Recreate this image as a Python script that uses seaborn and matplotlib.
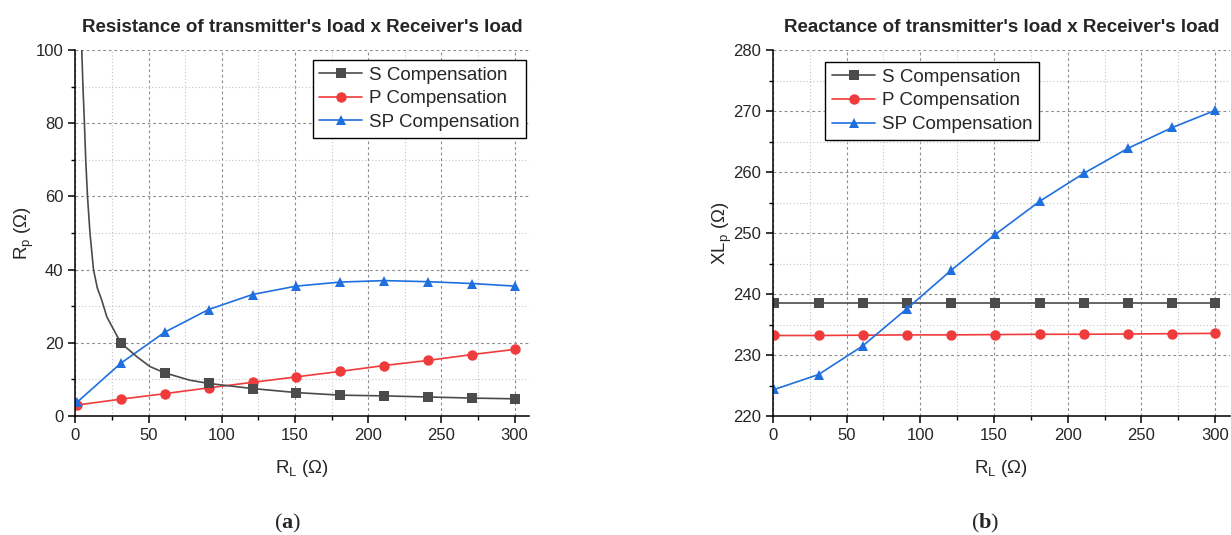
import numpy as np
import pandas as pd
import seaborn as sns
from matplotlib import pyplot as plt
from matplotlib.ticker import AutoMinorLocator, MultipleLocator

# load resistance values
rl = [1, 31, 61, 91, 121, 151, 181, 211, 241, 271, 300]

res_s = [500.0, 20.0, 11.8, 8.9, 7.5, 6.4, 5.7, 5.5, 5.2, 4.9, 4.7]
res_p = [3.0, 4.6, 6.1, 7.7, 9.2, 10.7, 12.2, 13.8, 15.2, 16.8, 18.2]
res_sp = [3.7, 14.4, 22.9, 29.1, 33.2, 35.5, 36.6, 37.0, 36.7, 36.2, 35.5]

s_trace_x = [1, 4.4, 5.2, 6.2, 7.1, 8.3, 10.0, 12.4, 15.0, 18.0, 21.5, 31, 42, 51, 61, 78, 91, 121,
             151, 181, 211, 241, 271, 300]
s_trace_y = [500.0, 100.0, 90.0, 80.0, 70.0, 60.0, 50.0, 40.0, 35.0, 31.7, 27.1, 20.0, 16.2, 13.5,
             11.8, 9.8, 8.9, 7.5, 6.4, 5.7, 5.5, 5.2, 4.9, 4.7]

react_s = [238.5, 238.5, 238.5, 238.5, 238.5, 238.5, 238.5, 238.5, 238.5, 238.5, 238.5]
react_p = [233.2, 233.2, 233.25, 233.3, 233.3, 233.35, 233.4, 233.4, 233.45, 233.5, 233.55]
react_sp = [224.35, 226.8, 231.5, 237.6, 243.9, 249.8, 255.2, 259.8, 263.9, 267.3, 270.1]

series = ["S Compensation", "P Compensation", "SP Compensation"]
palette = {"S Compensation": "#4b4b4b", "P Compensation": "#ef3b3b", "SP Compensation": "#1f6fde"}
markers = {"S Compensation": "s", "P Compensation": "o", "SP Compensation": "^"}

sns.set_style("white")
plt.rcParams["font.family"] = ["Liberation Sans", "DejaVu Sans"]
plt.rcParams["mathtext.default"] = "regular"
plt.rcParams["mathtext.fontset"] = "custom"
plt.rcParams["mathtext.bf"] = "Liberation Serif:bold"


def long_df(ys):
    frames = []
    for name, y in zip(series, ys):
        frames.append(pd.DataFrame({"rl": rl, "val": y, "series": name}))
    return pd.concat(frames, ignore_index=True)


def style_axes(ax, ylim, ymajor):
    ax.set_ylim(*ylim)
    ax.yaxis.set_major_locator(MultipleLocator(ymajor))
    ax.xaxis.set_minor_locator(AutoMinorLocator(2))
    ax.yaxis.set_minor_locator(AutoMinorLocator(2))
    ax.set_xticks(np.arange(0, 301, 50))
    ax.set_xlim(0, 310)
    ax.grid(which="major", color="#8c8c8c", linestyle=(0, (2.5, 2.5)), linewidth=0.8)
    ax.grid(which="minor", color="#c4c4c4", linestyle=(0, (1, 2)), linewidth=0.8)
    ax.set_axisbelow(True)
    for side in ["top", "right"]:
        ax.spines[side].set_visible(False)
    for side in ["left", "bottom"]:
        ax.spines[side].set_color("black")
        ax.spines[side].set_linewidth(1.1)
    ax.tick_params(which="major", direction="out", length=5, width=1.1, labelsize=12,
                   left=True, bottom=True, color="black")
    ax.tick_params(which="minor", direction="out", length=3, width=1.0,
                   left=True, bottom=True, color="black")
    ax.set_xlabel("R$_L$ (Ω)", fontsize=13.5)
    ax.xaxis.set_label_coords(0.5, -0.115)
    ax.xaxis.label.set_va("top")


fig = plt.figure(figsize=(12.31, 5.35), dpi=100)
ax_a = fig.add_axes([0.0612, 0.2224, 0.3688, 0.6841])
ax_b = fig.add_axes([0.6278, 0.2224, 0.3713, 0.6841])

# (a) resistance
df_a = long_df([res_s, res_p, res_sp])
sns.lineplot(data=df_a[df_a["series"] != "S Compensation"], x="rl", y="val", hue="series",
             style="series", markers=markers, dashes=False, palette=palette,
             markersize=7.5, linewidth=1.2, markeredgewidth=0, ax=ax_a, legend=False)
sns.lineplot(x=s_trace_x, y=s_trace_y, color=palette["S Compensation"], linewidth=1.2,
             ax=ax_a, estimator=None, sort=False)
s_pts = df_a[(df_a["series"] == "S Compensation") & (df_a["rl"] >= 31)]
sns.scatterplot(data=s_pts, x="rl", y="val", marker="s", color=palette["S Compensation"],
                s=48, linewidth=0, ax=ax_a, legend=False, zorder=3)
style_axes(ax_a, (0, 100), 20)
ax_a.set_ylabel("R$_p$ (Ω)", fontsize=13.5)
ax_a.yaxis.set_label_coords(-0.087, 0.5)
ax_a.set_title("Resistance of transmitter's load x Receiver's load", fontsize=13.5,
               fontweight="bold", pad=13)

# (b) reactance
df_b = long_df([react_s, react_p, react_sp])
sns.lineplot(data=df_b, x="rl", y="val", hue="series", style="series", markers=markers,
             dashes=False, palette=palette, markersize=7.5, linewidth=1.2,
             markeredgewidth=0, ax=ax_b, legend=False)
style_axes(ax_b, (220, 280), 10)
ax_b.set_ylabel("XL$_p$ (Ω)", fontsize=13.5)
ax_b.yaxis.set_label_coords(-0.086, 0.5)
ax_b.set_title("Reactance of transmitter's load x Receiver's load", fontsize=13.5,
               fontweight="bold", pad=13)

handles = [plt.Line2D([], [], color=palette[n], marker=markers[n], markersize=7.5,
                      markeredgewidth=0, linewidth=1.2) for n in series]
for ax, loc, anchor in [(ax_a, "upper right", (0.993, 0.973)), (ax_b, "upper left", (0.115, 0.967))]:
    leg = ax.legend(handles, series, loc=loc, bbox_to_anchor=anchor, borderaxespad=0,
                    fontsize=13.5, fancybox=False, framealpha=1, edgecolor="black",
                    handlelength=2.3, handletextpad=0.35, labelspacing=0.35, borderpad=0.35)
    leg.get_frame().set_linewidth(1.0)

fig.text(288 / 1231, 1 - 523 / 535, r"($\mathbf{a}$)", ha="center", va="center", fontsize=16,
         family="Liberation Serif")
fig.text(985 / 1231, 1 - 523 / 535, r"($\mathbf{b}$)", ha="center", va="center", fontsize=16,
         family="Liberation Serif")

fig.savefig("out.png", dpi=100)
plt.close(fig)
